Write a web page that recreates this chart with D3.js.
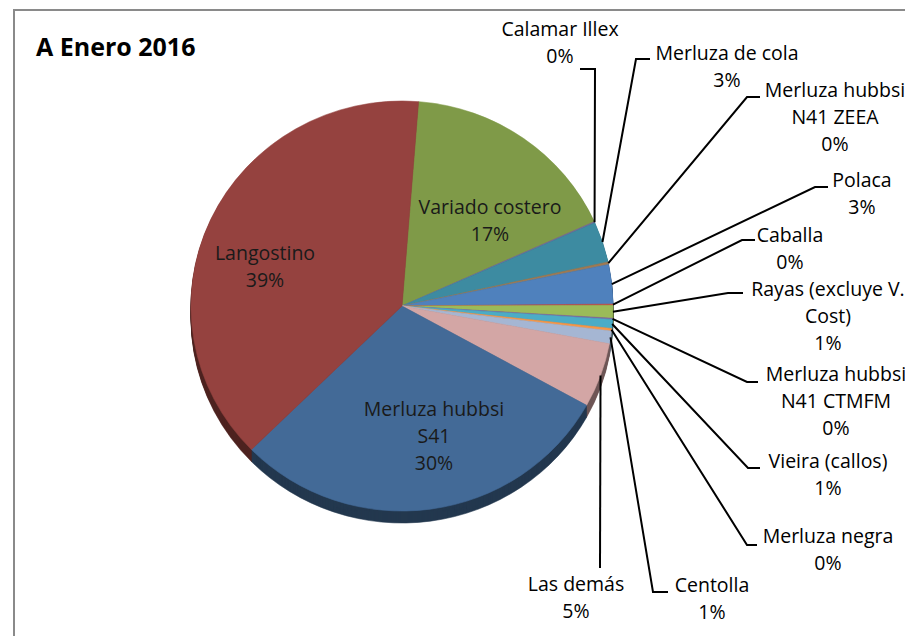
<!DOCTYPE html>
<html>
<head>
<meta charset="utf-8">
<script src="https://cdn.jsdelivr.net/npm/d3@7"></script>
<style>
  body { margin: 0; background: #fff; }
  text { font-family: 'Open Sans', sans-serif; }
</style>
</head>
<body>
<div id="chart"></div>
<script>
// slices, clockwise from the top
const categories = [
  'Variado costero',
  'Calamar Illex',
  'Merluza de cola',
  'Merluza hubbsi\nN41 ZEEA',
  'Polaca',
  'Caballa',
  'Rayas (excluye V.\nCost)',
  'Merluza hubbsi\nN41 CTMFM',
  'Vieira (callos)',
  'Merluza negra',
  'Centolla',
  'Las demás',
  'Merluza hubbsi\nS41',
  'Langostino',
];
const values = [17.0, 0.1, 3.2, 0.2, 3.1, 0.1, 1.0, 0.1, 0.7, 0.2, 1.0, 5.1, 29.6, 38.6];
const colors = [
  '#7f9a48', '#7b6a9c', '#3d8ba1', '#a07a52', '#4f81bd', '#c0504d', '#9bbb59',
  '#8064a2', '#4bacc6', '#f79646', '#a5b6d3', '#d3a6a5', '#436a97', '#95423f',
];

// label placement (Excel's manual layout): text anchor, leader elbow, leader end
const labelLayout = [
  { x: 490, y: 214, inside: true },
  { x: 560, y: 36, elbow: [595, 69], end: [580, 69] },
  { x: 727, y: 60, elbow: [636, 59], end: [650, 59] },
  { x: 835, y: 97, elbow: [747, 97], end: [760, 97] },
  { x: 862, y: 187, elbow: [815, 187], end: [828, 187] },
  { x: 790, y: 242, elbow: [742, 240], end: [755, 240] },
  { x: 828, y: 296, elbow: [728, 293], end: [743, 293] },
  { x: 836, y: 381, elbow: [747, 382], end: [758, 382] },
  { x: 828, y: 468, elbow: [748, 468], end: [760, 468] },
  { x: 828, y: 543, elbow: [747, 545], end: [757, 545] },
  { x: 712, y: 592, elbow: [653, 592], end: [668, 592] },
  { x: 576, y: 591, elbow: [600, 568], end: null },
  { x: 434, y: 416, inside: true },
  { x: 265, y: 260, inside: true },
];

const width = 905;
const height = 636;
const cx = 402;
const cy = 306;
const rx = 211;
const ry = 205;
const depth = 12;
const startAngle = 4.5 * Math.PI / 180;
const lineHeight = 27;

const data = categories.map((name, i) => ({ name, value: values[i] }));
const total = d3.sum(values);

const svg = d3
  .select('#chart')
  .append('svg')
  .attr('width', width)
  .attr('height', height);

// chart area border (cropped at right and bottom)
svg
  .append('rect')
  .attr('x', 14)
  .attr('y', 10)
  .attr('width', 1000)
  .attr('height', 1000)
  .attr('fill', '#fff')
  .attr('stroke', '#8a8a8a')
  .attr('stroke-width', 2);

svg
  .append('text')
  .attr('x', 36)
  .attr('y', 56)
  .attr('font-size', '25px')
  .attr('font-weight', 'bold')
  .attr('fill', '#000')
  .text('A Enero 2016');

const pie = d3
  .pie()
  .sort(null)
  .value(d => d.value)
  .startAngle(startAngle)
  .endAngle(startAngle + 2 * Math.PI);
const arcs = pie(data);
const arc = d3.arc().innerRadius(0).outerRadius(rx);
const squash = ry / rx;

// side wall: stacked darker layers
for (let k = depth; k >= 1; k--) {
  svg
    .append('g')
    .attr('transform', `translate(${cx}, ${cy + k}) scale(1, ${squash})`)
    .selectAll('path')
    .data(arcs)
    .join('path')
    .attr('d', arc)
    .attr('fill', d => d3.color(colors[d.index]).darker(1.8))
    .attr('stroke', d => d3.color(colors[d.index]).darker(1.8))
    .attr('stroke-width', 0.6);
}

// top face
svg
  .append('g')
  .attr('transform', `translate(${cx}, ${cy}) scale(1, ${squash})`)
  .selectAll('path')
  .data(arcs)
  .join('path')
  .attr('d', arc)
  .attr('fill', d => colors[d.index])
  .attr('stroke', d => colors[d.index])
  .attr('stroke-width', 0.6);

const rim = a => [cx + rx * Math.sin(a), cy - ry * Math.cos(a)];
const line = d3.line();

// leader lines
svg
  .append('g')
  .selectAll('path')
  .data(arcs.filter(d => !labelLayout[d.index].inside))
  .join('path')
  .attr('d', d => {
    const l = labelLayout[d.index];
    const pts = [rim((d.startAngle + d.endAngle) / 2), l.elbow];
    if (l.end) pts.push(l.end);
    return line(pts);
  })
  .attr('fill', 'none')
  .attr('stroke', '#000')
  .attr('stroke-width', 2);

// labels
const labels = svg
  .append('g')
  .selectAll('text')
  .data(arcs)
  .join('text')
  .attr('text-anchor', 'middle')
  .attr('font-size', '19.5px')
  .attr('fill', d => (labelLayout[d.index].inside ? '#1a1a1a' : '#000'));

labels.each(function(d) {
  const l = labelLayout[d.index];
  const rows = d.data.name.split('\n').concat(Math.round((d.data.value / total) * 100) + '%');
  d3.select(this)
    .selectAll('tspan')
    .data(rows)
    .join('tspan')
    .attr('x', l.x)
    .attr('y', (r, i) => l.y + i * lineHeight)
    .text(r => r);
});
</script>
</body>
</html>
